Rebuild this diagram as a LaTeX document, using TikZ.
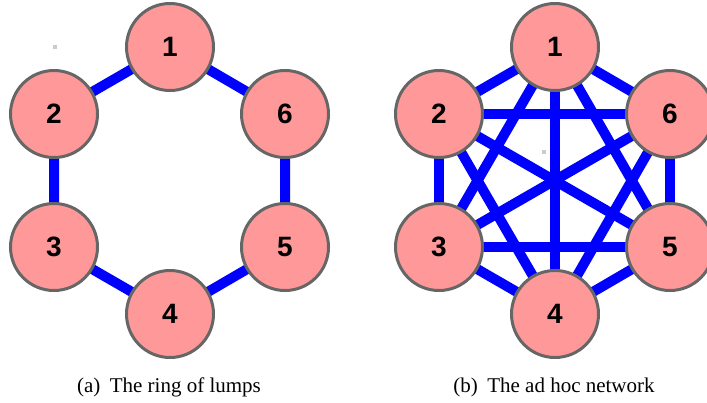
\documentclass[tikz,border=0pt]{standalone}
\usepackage{fontspec}
\setmainfont{Liberation Serif}
\newfontfamily\numfont{Liberation Sans}
\definecolor{lumpfill}{HTML}{FF9999}
\definecolor{lumpdraw}{HTML}{666666}
\definecolor{edgeblue}{HTML}{0000FF}
\definecolor{speck}{HTML}{CCCCC4}
\begin{document}
\begin{tikzpicture}[x=1pt,y=-1pt,
  lump/.style={circle, draw=lumpdraw, fill=lumpfill, line width=3pt,
    minimum size=87pt, inner sep=0pt, font=\numfont\bfseries\fontsize{28}{28}\selectfont},
  link/.style={draw=edgeblue, line width=10pt},
  captext/.style={font=\fontsize{21}{25}\selectfont, inner sep=0pt, anchor=base}]
\useasboundingbox (0,0) rectangle (707,402);
% speck artifacts
\fill[speck] (53,45) rectangle (57,49);
\fill[speck] (542,150) rectangle (546,154);
% left ring
\coordinate (a1) at (170,47);
\coordinate (a2) at (54,114);
\coordinate (a6) at (285,114);
\coordinate (a3) at (54,247);
\coordinate (a5) at (285,247);
\coordinate (a4) at (170,314);
\draw[link] (a1) -- (a2) -- (a3) -- (a4) -- (a5) -- (a6) -- cycle;
\foreach \i in {1,...,6} \node[lump] (A\i) at (a\i) {\i};
% right complete graph
\coordinate (b1) at (555,47);
\coordinate (b2) at (439,114);
\coordinate (b6) at (670,114);
\coordinate (b3) at (439,247);
\coordinate (b5) at (670,247);
\coordinate (b4) at (555,314);
\foreach \i/\j in {1/2,1/3,1/4,1/5,1/6,2/3,2/4,2/5,2/6,3/4,3/5,3/6,4/5,4/6,5/6}
  \draw[link] (b\i) -- (b\j);
\foreach \i in {1,...,6} \node[lump] (B\i) at (b\i) {\i};
% captions
\node[captext] (capa) at (169,392) {(a)\hspace{0.45em}The ring of lumps};
\node[captext] (capb) at (554,392) {(b)\hspace{0.45em}The ad hoc network};
\end{tikzpicture}
\end{document}
